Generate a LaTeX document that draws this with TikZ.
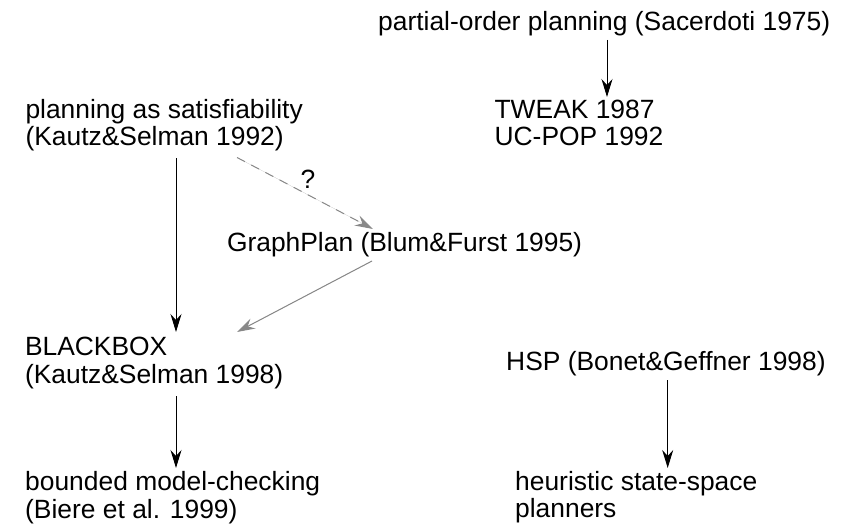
\documentclass[tikz,border=0pt]{standalone}
\usepackage{fontspec}
\setmainfont{Liberation Sans}
\usetikzlibrary{arrows.meta,calc}
\definecolor{linkgray}{HTML}{888888}
\begin{document}
\begin{tikzpicture}[x=1pt,y=-1pt,
  label/.style={anchor=base west,inner sep=0pt,align=left,
    font=\fontsize{26.4}{27.5}\selectfont},
  link/.style={line width=1pt,-{Stealth[length=18pt,width=11pt,inset=6pt]}},
  weak/.style={link,draw=linkgray,fill=linkgray}]
  \fill[white] (0,0) rectangle (847,527);
  \useasboundingbox (0,0) rectangle (847,527);

  % idea nodes (base west = baseline of the last line)
  \node[label] (pop)   at (378,31)      {partial-order planning (Sacerdoti 1975)};
  \node[label] (tweak) at (494.4,145.5) {TWEAK 1987\\UC-POP 1992};
  \node[label] (sat)   at (25.3,146)    {planning as satisfiability\\(Kautz\&Selman 1992)};
  \node[label] (graph) at (226.8,251.7) {GraphPlan (Blum\&Furst 1995)};
  \node[label] (bb)    at (24.8,383)    {BLACKBOX\\(Kautz\&Selman 1998)};
  \node[label] (bmc)   at (25,518)      {bounded model-checking\\(Biere et al. 1999)};
  \node[label] (hsp)   at (506,370)     {HSP (Bonet\&Geffner 1998)};
  \node[label] (heur)  at (515,517.5)   {heuristic state-space\\planners};

  % lines of influence
  \draw[link] ($(pop.base west)+(229,9)$) -- ($(tweak.base west)+(112.6,-48.5)$);
  \draw[link] ($(sat.base west)+(150.7,12)$) -- ($(bb.base west)+(151.2,-51)$);
  \draw[weak,dash pattern=on 9pt off 7pt]
    ($(sat.base west)+(211.7,11.5)$) -- node[pos=0.5,above right,inner sep=0pt,
      xshift=-5pt,yshift=4pt,font=\fontsize{26.4}{27.5}\selectfont,text=black]
      (q) {?} ($(graph.base west)+(146.2,-22.7)$);
  \draw[weak] ($(graph.base west)+(145.2,9.3)$) -- ($(bb.base west)+(212.2,-51)$);
  \draw[link] ($(bb.base west)+(151.2,13)$) -- ($(bmc.base west)+(151,-50)$);
  \draw[link] ($(hsp.base west)+(161.7,10)$) -- ($(heur.base west)+(152.7,-49.5)$);
\end{tikzpicture}
\end{document}
